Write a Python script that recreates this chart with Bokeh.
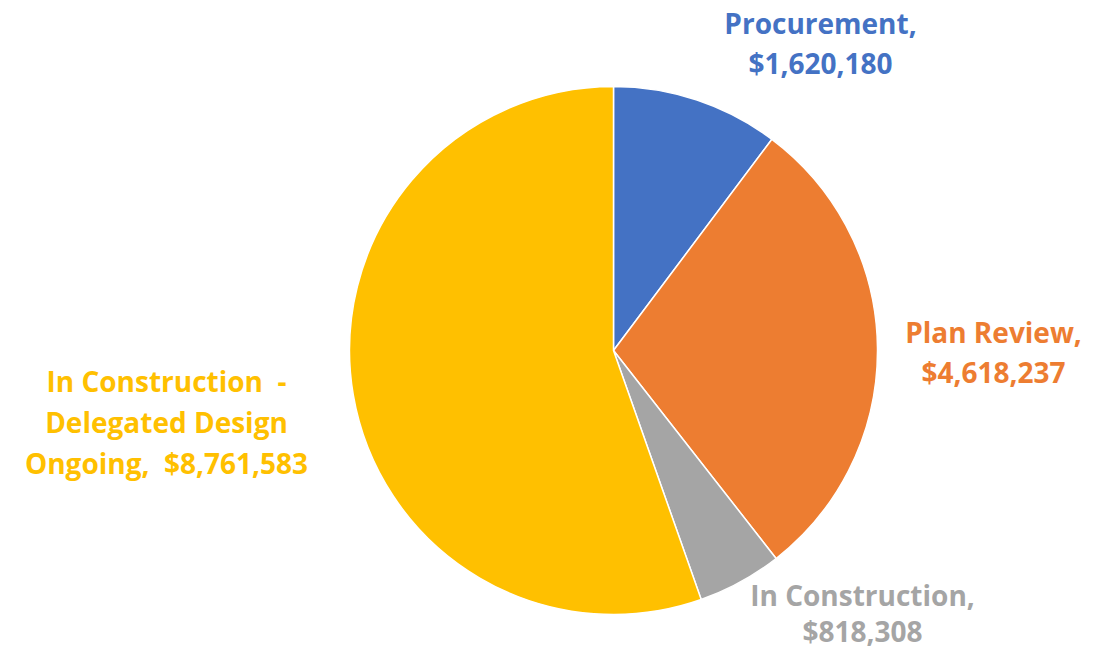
import math
from bokeh.plotting import figure
from bokeh.models import ColumnDataSource
from bokeh.core.properties import value
from bokeh.embed import file_html
from bokeh.resources import INLINE

categories = ["Procurement", "Plan Review", "In Construction", "In Construction  - Delegated Design Ongoing"]
values = [1620180, 4618237, 818308, 8761583]
colors = ["#4472C4", "#ED7D31", "#A5A5A5", "#FFC000"]
label_colors = ["#4472C4", "#ED7D31", "#A5A5A5", "#FFC000"]

W, H = 1081, 653
p = figure(width=W, height=H, output_backend="svg", toolbar_location=None,
           x_range=(0, W), y_range=(0, H), min_border=0)
p.axis.visible = False
p.grid.visible = False
p.outline_line_color = None
p.background_fill_color = "white"

cx, cy, r = 613, H - 350, 264
total = sum(values)
starts, ends = [], []
a = math.pi / 2
for v in values:
    ang = 2 * math.pi * v / total
    starts.append(a)
    ends.append(a - ang)
    a -= ang
src = ColumnDataSource(dict(s=starts, e=ends, c=colors))
p.wedge(x=cx, y=cy, radius=r, start_angle="s", end_angle="e", direction="clock",
        fill_color="c", line_color="white", line_width=1.5, source=src)

def money(v):
    return "${:,}".format(v)

label_lines = [
    [categories[0] + ",", money(values[0])],
    [categories[1] + ",", money(values[1])],
    [categories[2] + ",", money(values[2])],
    ["In Construction \u00a0-", "Delegated Design", "Ongoing,\u00a0 " + money(values[3])],
]
anchors = [(820, 22, 40), (993, 331, 40), (862, 594, 36), (166, 380, 41)]
xs, ys, ts, cs = [], [], [], []
for lines, (ax, ay, lh), col in zip(label_lines, anchors, label_colors):
    for i, t in enumerate(lines):
        xs.append(ax)
        ys.append(H - (ay + i * lh))
        ts.append(t)
        cs.append(col)
tsrc = ColumnDataSource(dict(x=xs, y=ys, t=ts, c=cs))
p.text(x="x", y="y", text="t", text_color="c", source=tsrc,
       text_font=value("Open Sans"), text_font_style="bold", text_font_size="28px",
       text_align="center", text_baseline="middle")

open("out.html", "w").write(file_html(p, INLINE))
